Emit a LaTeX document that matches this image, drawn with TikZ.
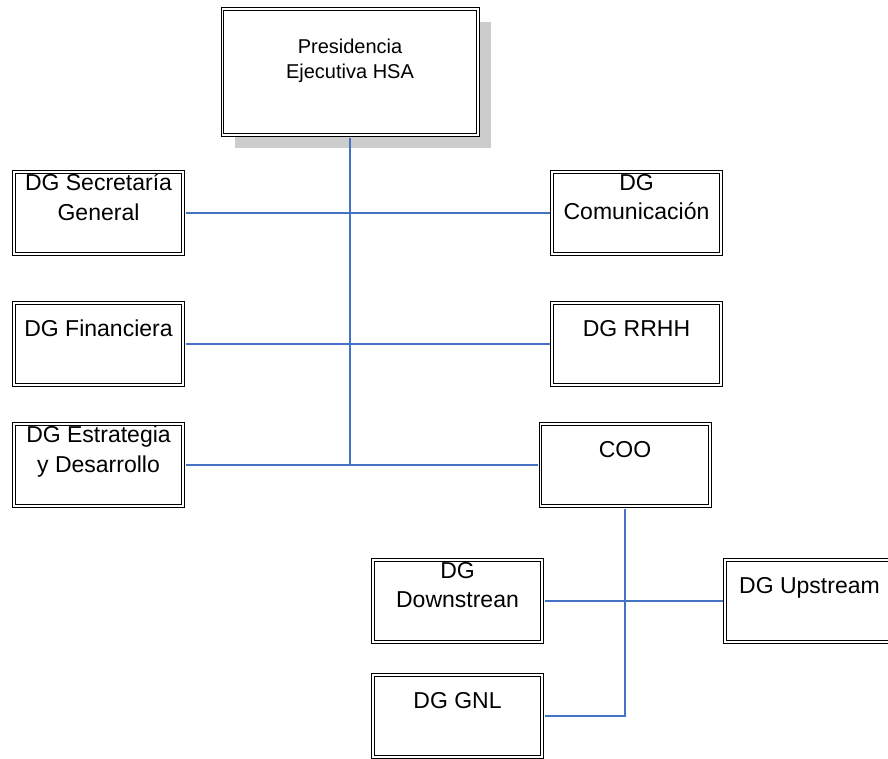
\documentclass[tikz,border=0pt]{standalone}
\usepackage{fontspec}
\setmainfont{Liberation Sans}
\usetikzlibrary{shadows}
\definecolor{linkblue}{RGB}{68,114,196}
\definecolor{shadowgray}{RGB}{204,204,204}
\begin{document}
\begin{tikzpicture}[x=1pt,y=-1pt,
  frame/.style={draw=black, line width=1pt, double=white, double distance=1.8pt,
    fill=white, inner sep=0pt},
  unitbox/.style={frame, minimum width=169.2pt, minimum height=82.2pt},
  headbox/.style={frame, minimum width=255.2pt, minimum height=126.2pt,
    drop shadow={shadow xshift=13pt, shadow yshift=-13pt, fill=shadowgray, opacity=1}},
  lbl/.style={font=\fontsize{23}{29.5}\selectfont, align=center, inner sep=0pt, text depth=0pt},
  headlbl/.style={font=\fontsize{20}{24.5}\selectfont, align=center, inner sep=0pt, text depth=0pt},
  link/.style={draw=linkblue, line width=1.3pt},
  trunk/.style={draw=linkblue, line width=2pt}]
\useasboundingbox (0,0) rectangle (888,758);

% boxes
\node[headbox] (pres) at (350,72) {};
\node[unitbox] (sec)  at (98.5,213) {};
\node[unitbox] (com)  at (636.5,213) {};
\node[unitbox] (fin)  at (98.5,344) {};
\node[unitbox] (rrhh) at (636.5,344) {};
\node[unitbox] (estr) at (98.5,465) {};
\node[unitbox] (coo)  at (625,465) {};
\node[unitbox] (down) at (457.5,601) {};
\node[unitbox] (up)   at (809.5,601) {};
\node[unitbox] (gnl)  at (457.5,716) {};

% labels, set near the top of each box
\node[headlbl] (presT) at ([yshift=-50.3pt]pres.north) {Presidencia\\Ejecutiva HSA};
\node[lbl] (secT)  at ([yshift=-25.6pt]sec.north)  {DG Secretaría\\General};
\node[lbl] (comT)  at ([yshift=-25.6pt]com.north)  {DG\\Comunicación};
\node[lbl] (finT)  at ([yshift=-25.6pt]fin.north)  {DG Financiera};
\node[lbl] (rrhhT) at ([yshift=-25.6pt]rrhh.north) {DG RRHH};
\node[lbl] (estrT) at ([yshift=-25.6pt]estr.north) {DG Estrategia\\y Desarrollo};
\node[lbl] (cooT)  at ([yshift=-25.6pt]coo.north)  {COO};
\node[lbl] (downT) at ([yshift=-25.6pt]down.north) {DG\\Downstrean};
\node[lbl] (upT)   at ([yshift=-25.6pt]up.north)   {DG Upstream};
\node[lbl] (gnlT)  at ([yshift=-25.6pt]gnl.north)  {DG GNL};

% connectors
\coordinate (hub) at (pres.south |- estr.east);
\draw[trunk, shorten <=1.9pt] (pres.south) -- (hub);
\draw[link, shorten <=1.9pt, shorten >=1.9pt] (sec.east) -- (com.west);
\draw[link, shorten <=1.9pt, shorten >=1.9pt] (fin.east) -- (rrhh.west);
\draw[link, shorten <=1.9pt, shorten >=1.9pt] (estr.east) -- (coo.west);
\draw[link, shorten <=1.9pt, shorten >=1.9pt] (coo.south) |- (gnl.east);
\draw[link, shorten <=1.9pt, shorten >=1.9pt] (down.east) -- (up.west);
\end{tikzpicture}
\end{document}
